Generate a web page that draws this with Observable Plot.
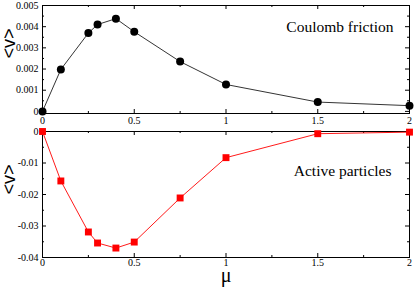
<!DOCTYPE html>
<html><head><meta charset="utf-8">
<script src="https://cdn.jsdelivr.net/npm/d3@7"></script>
<script src="https://cdn.jsdelivr.net/npm/@observablehq/plot@0.6"></script>
<style>
body{margin:0;background:#fff;}
#wrap{position:relative;width:415px;height:287px;}
#wrap svg{position:absolute;left:0;}
</style></head><body><div id="wrap"></div>
<script>
const mu = [0, 0.1, 0.25, 0.3, 0.4, 0.5, 0.75, 1, 1.5, 2];
const coulombV = [0, 0.00198, 0.0037, 0.0041, 0.00438, 0.00376, 0.00235, 0.00127, 0.00044, 0.00027];
const activeV = [0, -0.0157, -0.0319, -0.0354, -0.037, -0.0351, -0.0211, -0.0083, -0.0007, -0.0002];
const xTicks = [0, 0.5, 1, 1.5, 2];
const xMinor = [0.25, 0.75, 1.25, 1.75];
const topTicks = [0, 0.001, 0.002, 0.003, 0.004, 0.005];
const topMinor = [0.0005, 0.0015, 0.0025, 0.0035, 0.0045];
const botTicks = [0, -0.01, -0.02, -0.03, -0.04];
const botMinor = [-0.005, -0.015, -0.025, -0.035];
const topLabel = "Coulomb friction";
const botLabel = "Active particles";
const yLabel = "<v>";
const xLabel = "μ";

const serif = "Liberation Serif, Times New Roman, serif";
const sans = "Liberation Sans, Arial, sans-serif";
const W = 415, mL = 42, mR = 6;
const xFmt = d => String(d);

function tickMarks(innerH, innerW, yMaj, yMin) {
  const M = 4, m = 2;
  return [
    Plot.tickX(xTicks, {x: d => d, insetTop: innerH - M, stroke: "#000"}),
    Plot.tickX(xTicks, {x: d => d, insetBottom: innerH - M, stroke: "#000"}),
    Plot.tickX(xMinor, {x: d => d, insetTop: innerH - m, stroke: "#000"}),
    Plot.tickX(xMinor, {x: d => d, insetBottom: innerH - m, stroke: "#000"}),
    Plot.tickY(yMaj, {y: d => d, insetRight: innerW - M, stroke: "#000"}),
    Plot.tickY(yMaj, {y: d => d, insetLeft: innerW - M, stroke: "#000"}),
    Plot.tickY(yMin, {y: d => d, insetRight: innerW - m, stroke: "#000"}),
    Plot.tickY(yMin, {y: d => d, insetLeft: innerW - m, stroke: "#000"})
  ];
}

const topData = mu.map((x, i) => ({x, v: coulombV[i]}));
const botData = mu.map((x, i) => ({x, v: activeV[i]}));

// Top panel
const tH = 127, tMT = 5, tMB = 14;
const topPlot = Plot.plot({
  width: W, height: tH, marginLeft: mL, marginRight: mR, marginTop: tMT, marginBottom: tMB,
  style: {fontFamily: serif, fontSize: "10px", background: "transparent"},
  x: {domain: [0, 2]},
  y: {domain: [-0.0001, 0.005]},
  marks: [
    Plot.frame({stroke: "#000"}),
    ...tickMarks(tH - tMT - tMB, W - mL - mR, topTicks, topMinor),
    Plot.axisX({ticks: xTicks, tickSize: 0, tickPadding: 3, label: null, fontSize: 10, tickFormat: xFmt}),
    Plot.axisY({ticks: topTicks, tickSize: 0, tickPadding: 4, label: null, fontSize: 10,
      tickFormat: d => d === 0 ? "0" : d.toFixed(3)}),
    Plot.line(topData, {x: "x", y: "v", stroke: "#000", strokeWidth: 0.8}),
    Plot.dot(topData, {x: "x", y: "v", r: 4, fill: "#000", stroke: "none"}),
    Plot.text([topLabel], {frameAnchor: "top-right", text: d => d, dx: -16, dy: 22,
      textAnchor: "end", lineAnchor: "middle", fontSize: 15.5, fontFamily: serif}),
    Plot.text([yLabel], {frameAnchor: "left", text: d => d, dx: -33, dy: -1, rotate: -90,
      fontSize: 18, fontFamily: sans, lineAnchor: "middle"})
  ]
});
topPlot.style.top = "0px";

// Bottom panel
const bTop = 127;
const bH = 287 - bTop, bMT = 4, bMB = 30;
const botPlot = Plot.plot({
  width: W, height: bH, marginLeft: mL, marginRight: mR, marginTop: bMT, marginBottom: bMB,
  style: {fontFamily: serif, fontSize: "10px", background: "transparent"},
  x: {domain: [0, 2]},
  y: {domain: [-0.04, 0]},
  marks: [
    Plot.frame({stroke: "#000"}),
    ...tickMarks(bH - bMT - bMB, W - mL - mR, botTicks, botMinor),
    Plot.axisX({ticks: xTicks, tickSize: 0, tickPadding: 1, label: null, fontSize: 10, tickFormat: xFmt}),
    Plot.axisY({ticks: botTicks, tickSize: 0, tickPadding: 4, label: null, fontSize: 10,
      tickFormat: d => d === 0 ? "0" : d.toFixed(2)}),
    Plot.line(botData, {x: "x", y: "v", stroke: "#ff0000", strokeWidth: 0.9}),
    Plot.dot(botData, {x: "x", y: "v", r: 3.9, symbol: "square", fill: "#ff0000", stroke: "none"}),
    Plot.text([botLabel], {frameAnchor: "top-right", text: d => d, dx: -18, dy: 40,
      textAnchor: "end", lineAnchor: "middle", fontSize: 15.5, fontFamily: serif}),
    Plot.text([yLabel], {frameAnchor: "left", text: d => d, dx: -33, rotate: -90,
      fontSize: 18, fontFamily: sans, lineAnchor: "middle"}),
    Plot.text([xLabel], {frameAnchor: "bottom", text: d => d, dy: 18, lineAnchor: "middle",
      fontSize: 20, fontFamily: serif})
  ]
});
botPlot.style.top = bTop + "px";

const wrap = document.getElementById("wrap");
wrap.appendChild(topPlot);
wrap.appendChild(botPlot);
</script></body></html>
